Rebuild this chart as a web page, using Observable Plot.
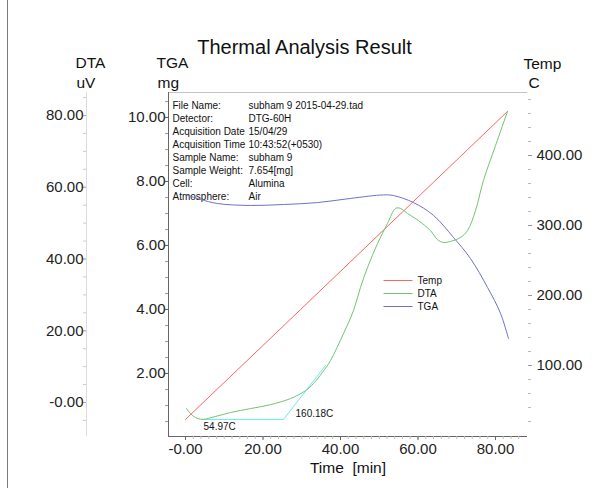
<!DOCTYPE html>
<html><head><meta charset="utf-8">
<script src="https://cdn.jsdelivr.net/npm/d3@7"></script>
<script src="https://cdn.jsdelivr.net/npm/@observablehq/plot@0.6"></script>
<style>
html,body{margin:0;padding:0;background:#fff;}
#wrap{position:relative;width:595px;height:488px;overflow:hidden;}
#border{position:absolute;left:7px;top:0;width:1px;height:488px;background:#7a7a7a;}
#wrap svg{position:absolute;left:0;top:0;}
</style></head><body><div id="wrap"><div id="border"></div></div>
<script>
// ---- data ----
const tempTime  = [0, 29.7, 83.1];
const tempValue = [23, 180, 463];

const dtaTime  = [0.26,1.29,2.58,4.39,7.74,11.61,16.77,21.94,27.10,30.97,33.03,35.35,37.42,40.77,43.35,45.16,46.97,49.55,52.13,54.19,55.48,57.29,60.13,63.23,65.03,66.58,68.39,70.97,72.77,74.84,76.90,80.0,83.10];
const dtaValue = [-1.7,-3.1,-4.2,-4.7,-3.9,-2.8,-1.7,-0.6,1.1,3.3,5.3,8.4,11.7,19.2,25.6,32.1,37.6,44.3,49.9,54.1,54.1,52.7,50.7,47.9,45.4,44.6,44.9,46.0,47.9,53.5,61.9,71.6,81.1];

const tgaTime  = [0,3.87,8.26,16.77,25.29,34.06,42.58,51.10,53.68,58.84,64.0,69.16,73.55,77.94,81.29,83.35];
const tgaValue = [7.59,7.44,7.31,7.25,7.28,7.34,7.47,7.58,7.56,7.34,6.94,6.25,5.59,4.69,3.88,3.09];

const baseTime  = [4.39, 25.29, 36.13];
const baseValue = [-4.74, -4.74, 10.3];
const onsetLabels = ["54.97C", "160.18C"];

const xTicks = [0, 20, 40, 60, 80];
const xTickLabels = ["-0.00", "20.00", "40.00", "60.00", "80.00"];
const dtaTicks = [0, 20, 40, 60, 80];
const dtaTickLabels = ["-0.00", "20.00", "40.00", "60.00", "80.00"];
const tgaTicks = [2, 4, 6, 8, 10];
const tgaTickLabels = ["2.00", "4.00", "6.00", "8.00", "10.00"];
const tempTicks = [100, 200, 300, 400];
const tempTickLabels = ["100.00", "200.00", "300.00", "400.00"];

const infoKeys = ["File Name:", "Detector:", "Acquisition Date", "Acquisition Time", "Sample Name:", "Sample Weight:", "Cell:", "Atmosphere:"];
const infoValues = ["subham 9 2015-04-29.tad", "DTG-60H", "15/04/29", "10:43:52(+0530)", "subham 9", "7.654[mg]", "Alumina", "Air"];

const seriesNames = ["Temp", "DTA", "TGA"];
const seriesColors = ["#ff6464", "#72c472", "#7070cc"];
const baseColor = "#66eeee";

// ---- scales: y in Temp units, DTA & TGA aligned onto it ----
const X_DOMAIN = [-4.39, 88.26];
const Y_DOMAIN = [-1.4, 490];
const DTA_DOMAIN = [-9.48, 86.41];
const TGA_DOMAIN = [0.03, 10.78];
const dtaY = d3.scaleLinear(DTA_DOMAIN, Y_DOMAIN);
const tgaY = d3.scaleLinear(TGA_DOMAIN, Y_DOMAIN);

const tempRows = tempTime.map((t, i) => ({t, v: tempValue[i]}));
const dtaRows = dtaTime.map((t, i) => ({t, v: dtaY(dtaValue[i])}));
const tgaRows = tgaTime.map((t, i) => ({t, v: tgaY(tgaValue[i])}));
const baseRows = baseTime.map((t, i) => ({t, v: dtaY(baseValue[i])}));

const mapLabels = (vals, labels, f) => new Map(vals.map((v, i) => [f(v), labels[i]]));
const xLab = mapLabels(xTicks, xTickLabels, v => v);
const dtaLab = mapLabels(dtaTicks, dtaTickLabels, dtaY);
const tgaLab = mapLabels(tgaTicks, tgaTickLabels, tgaY);
const tempLab = mapLabels(tempTicks, tempTickLabels, v => v);

const ML = 168, MR = 68, MT = 92, MB = 52, W = 595, H = 488;
const FW = W - ML - MR, FH = H - MT - MB;
const FONT = "'Liberation Sans', Arial, sans-serif";
const blank = () => "";

const marks = [
  // axis lines
  Plot.ruleX([X_DOMAIN[0]], {dx: -82, stroke: "#dcdcdc"}),
  Plot.ruleY([Y_DOMAIN[1]], {stroke: "#c4c4c4"}),
  Plot.ruleX([X_DOMAIN[0]], {stroke: "#666"}),
  Plot.ruleY([Y_DOMAIN[0]], {stroke: "#666"}),
  // x axis
  Plot.axisX(d3.range(0, 88, 2), {anchor: "bottom", tickSize: 3, stroke: "#bbb", tickFormat: blank, label: null}),
  Plot.axisX(xTicks, {anchor: "bottom", tickSize: 4, tickPadding: 3, stroke: "#666", fill: "#222", fontSize: 15, tickFormat: d => xLab.get(d), label: null}),
  Plot.text(["Time\u00a0\u00a0[min]"], {frameAnchor: "bottom", dy: 32, lineAnchor: "middle", fontSize: 15.5, fill: "#111"}),
  // DTA axis (far left)
  Plot.axisY(d3.range(-5, 86, 5).map(dtaY), {anchor: "left", dx: -82, tickSize: 3, stroke: "#ccc", tickFormat: blank, label: null}),
  Plot.axisY(dtaTicks.map(dtaY), {anchor: "left", dx: -82, tickSize: 3, tickPadding: 0, stroke: "#aaa", fill: "#222", fontSize: 15, tickFormat: d => dtaLab.get(d), label: null}),
  // TGA axis
  Plot.axisY(d3.range(0.5, 10.6, 0.5).map(tgaY), {anchor: "left", tickSize: 3, stroke: "#999", tickFormat: blank, label: null}),
  Plot.axisY(tgaTicks.map(tgaY), {anchor: "left", tickSize: 3, tickPadding: 0, stroke: "#666", fill: "#222", fontSize: 15, tickFormat: d => tgaLab.get(d), label: null}),
  // Temp axis (right)
  Plot.axisY(d3.range(20, 481, 20), {anchor: "right", tickSize: 3, stroke: "#bbb", tickFormat: blank, label: null}),
  Plot.axisY(tempTicks, {anchor: "right", tickSize: 4, tickPadding: 5, stroke: "#999", fill: "#222", fontSize: 15, tickFormat: d => tempLab.get(d), label: null}),
  // axis titles
  Plot.text(["DTA"], {frameAnchor: "top-left", dx: 75 - ML, dy: 63 - MT, lineAnchor: "middle", fontSize: 15.5, fill: "#111"}),
  Plot.text(["uV"], {frameAnchor: "top-left", dx: 76 - ML, dy: 83 - MT, lineAnchor: "middle", fontSize: 15.5, fill: "#111"}),
  Plot.text(["TGA"], {frameAnchor: "top-left", dx: 156 - ML, dy: 63 - MT, lineAnchor: "middle", fontSize: 15.5, fill: "#111"}),
  Plot.text(["mg"], {frameAnchor: "top-left", dx: 157 - ML, dy: 83 - MT, lineAnchor: "middle", fontSize: 15.5, fill: "#111"}),
  Plot.text(["Temp"], {frameAnchor: "top-right", dx: 523 - (W - MR), dy: 64 - MT, lineAnchor: "middle", textAnchor: "start", fontSize: 15.5, fill: "#111"}),
  Plot.text(["C"], {frameAnchor: "top-right", dx: 528 - (W - MR), dy: 83 - MT, lineAnchor: "middle", textAnchor: "start", fontSize: 15.5, fill: "#111"}),
  // title
  Plot.text(["Thermal Analysis Result"], {frameAnchor: "top", dx: 304 - (ML + FW / 2), dy: 47 - MT, lineAnchor: "middle", fontSize: 20, fill: "#111"}),
  // info block
  Plot.text([infoKeys.join("\n")], {frameAnchor: "top-left", dx: 4, dy: 7, textAnchor: "start", lineAnchor: "top", lineHeight: 1.3, fontSize: 10, fill: "#111"}),
  Plot.text([infoValues.join("\n")], {frameAnchor: "top-left", dx: 80, dy: 7, textAnchor: "start", lineAnchor: "top", lineHeight: 1.3, fontSize: 10, fill: "#111"}),
  // data
  Plot.line(tempRows, {x: "t", y: "v", stroke: seriesColors[0], strokeWidth: 1}),
  Plot.line(baseRows, {x: "t", y: "v", stroke: baseColor, strokeWidth: 1}),
  Plot.line(tgaRows, {x: "t", y: "v", stroke: seriesColors[2], strokeWidth: 1, curve: "catmull-rom"}),
  Plot.line(dtaRows, {x: "t", y: "v", stroke: seriesColors[1], strokeWidth: 1, curve: "catmull-rom"}),
  Plot.text(baseRows.slice(0, 1), {x: "t", y: "v", text: () => onsetLabels[0], dx: 1, dy: 7, textAnchor: "start", fontSize: 10, fill: "#111"}),
  Plot.text(baseRows.slice(1, 2), {x: "t", y: "v", text: () => onsetLabels[1], dx: 12, dy: -6, textAnchor: "start", fontSize: 10, fill: "#111"}),
  // legend
  ...seriesNames.flatMap((name, i) => [
    Plot.frame({fill: seriesColors[i], stroke: null, insetLeft: 383 - ML, insetRight: (ML + FW) - 412, insetTop: 280 - MT + i * 13 - 0.5, insetBottom: (MT + FH) - (280 + i * 13 + 0.5)}),
    Plot.text([name], {frameAnchor: "top-left", dx: 417 - ML, dy: 280 - MT + i * 13, lineAnchor: "middle", textAnchor: "start", fontSize: 10, fill: "#111"})
  ])
];

const chart = Plot.plot({
  width: W, height: H,
  marginLeft: ML, marginRight: MR, marginTop: MT, marginBottom: MB,
  x: {domain: X_DOMAIN, axis: null},
  y: {domain: Y_DOMAIN, axis: null},
  style: {fontFamily: FONT, fontSize: "15px", color: "#222", background: "transparent", overflow: "visible"},
  marks
});
document.getElementById("wrap").appendChild(chart);
</script>
</body></html>
